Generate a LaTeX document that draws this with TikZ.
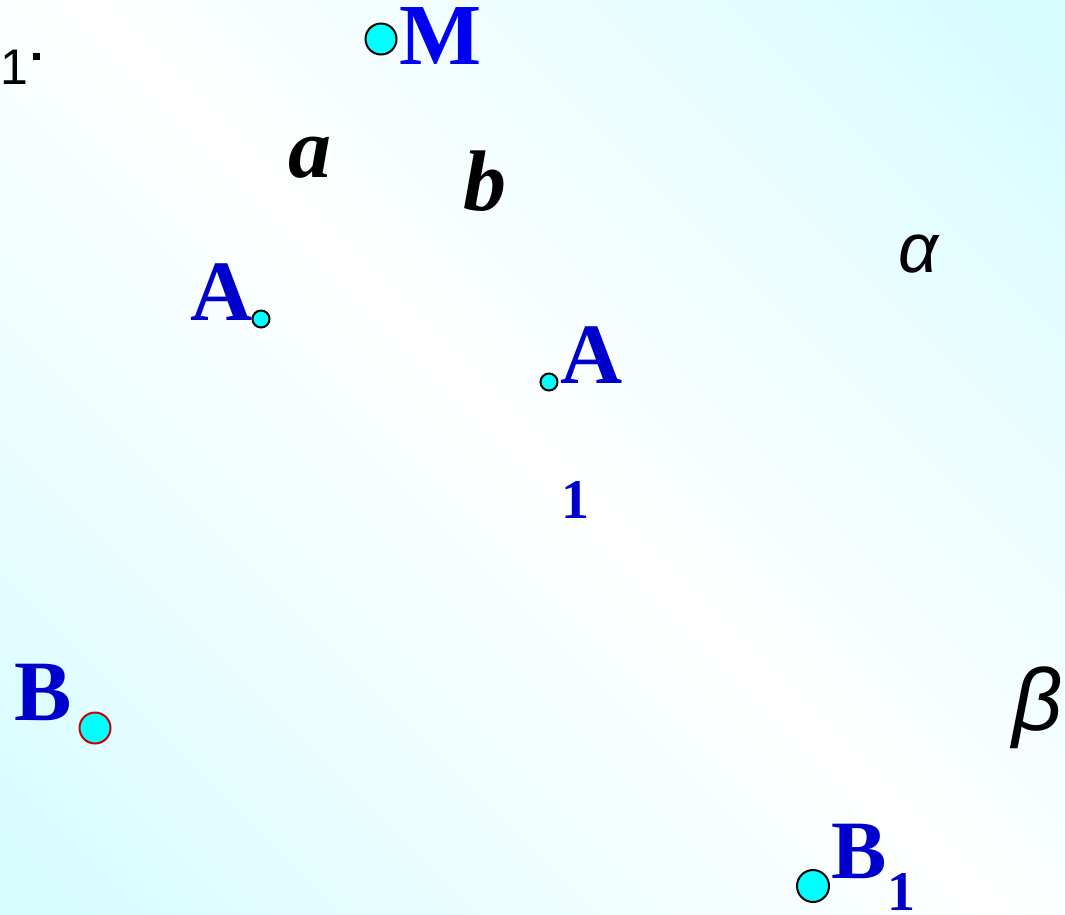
\documentclass[tikz,border=0pt]{standalone}
\usepackage{fontspec}
\newfontfamily\serifb{Liberation Serif}[BoldFont={* Bold},BoldItalicFont={* Bold Italic}]
\newfontfamily\sansf{Liberation Sans}
\definecolor{bgcyan}{RGB}{214,252,255}
\definecolor{ptblue}{RGB}{0,0,204}
\definecolor{mblue}{RGB}{0,0,245}
\definecolor{dotcyan}{RGB}{0,255,255}
\definecolor{dotred}{RGB}{200,0,0}
\tikzset{
  lbl/.style={anchor=base west, inner sep=0pt, outer sep=0pt},
  ptlbl/.style={lbl, text=ptblue, font=\serifb\bfseries\fontsize{86}{90}\selectfont},
  linelbl/.style={lbl, text=black, font=\serifb\bfseries\itshape\fontsize{86}{90}\selectfont},
  planelbl/.style={lbl, text=black, font=\sansf\itshape},
  pt/.style={circle, draw=black, fill=dotcyan, line width=2pt, inner sep=0pt},
}
\begin{document}
\begin{tikzpicture}[x=1pt,y=-1pt]
\useasboundingbox (0,0) rectangle (1065,914);
\shade[top color=bgcyan, bottom color=bgcyan, middle color=white, shading angle=-45] (-200,-200) rectangle (1265,1114);
% top-left fragment
\node[lbl, font=\sansf\fontsize{50}{54}\selectfont] (t1) at (1,84) {1};
\fill (33,53) rectangle (40,60);
% M
\node[pt, minimum size=31pt] (Mdot) at (381,39) {};
\node[ptlbl, text=mblue, font=\serifb\bfseries\fontsize{87}{90}\selectfont] (M) at (399,64) {M};
% lines a, b
\node[linelbl] (a) at (288,177) {a};
\node[linelbl] (b) at (463,210) {b};
% planes
\node[planelbl, font=\sansf\itshape\fontsize{70}{74}\selectfont] (alpha) at (898,272) {α};
\node[planelbl, font=\sansf\itshape\fontsize{88}{92}\selectfont] (beta) at (1012,730) {β};
% A
\node[ptlbl] (A) at (190,320) {A};
\node[pt, minimum size=17pt] (Adot) at (261,319) {};
% A1
\node[pt, minimum size=17pt] (A1dot) at (549,382) {};
\node[ptlbl] (A1) at (560,383) {A};
\node[ptlbl, font=\serifb\bfseries\fontsize{56}{60}\selectfont] (A1sub) at (561,518) {1};
% B
\node[ptlbl] (B) at (14,720) {B};
\node[pt, draw=dotred, minimum size=31pt] (Bdot) at (95,728) {};
% B1
\node[pt, minimum size=32pt] (B1dot) at (813,886) {};
\node[ptlbl, font=\serifb\bfseries\fontsize{83}{86}\selectfont] (B1) at (831,878) {B};
\node[ptlbl, font=\serifb\bfseries\fontsize{56}{60}\selectfont] (B1sub) at (887,910) {1};
\end{tikzpicture}
\end{document}
